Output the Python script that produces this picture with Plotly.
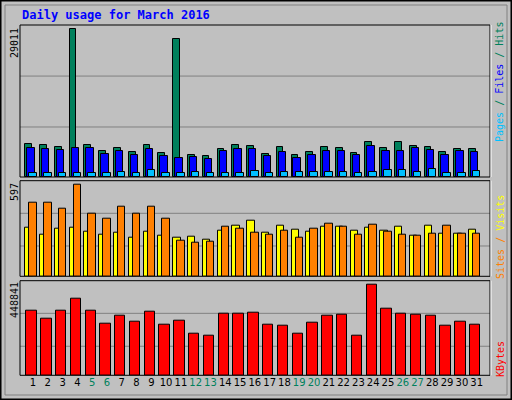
import plotly.graph_objects as go

days = list(range(1, 32))
hits = [6564,6366,5973,29011,6366,5185,5776,4988,6366,4791,27042,4398,4200,5579,6366,6170,4594,5973,4398,4988,5973,5776,4791,6957,5776,6957,6170,5973,4988,5579,5579]
files = [5776,5579,5382,5776,5776,4594,5185,4398,5579,4200,3807,4004,3610,5185,5579,5579,4200,4988,3807,4398,5185,5185,4398,6170,5185,5185,5776,5382,4398,5185,4988]
pages = [853,853,853,853,853,853,1050,853,1444,853,853,1050,853,853,853,1247,853,1050,1050,1050,1050,1050,853,1050,1444,1444,1050,1640,853,853,1247]
sites = [318,273,311,318,292,273,286,253,292,266,253,260,240,298,331,363,286,331,305,292,324,324,298,318,298,324,266,331,279,279,305]
visits = [480,480,441,597,409,376,454,409,454,376,234,221,227,324,311,286,273,298,253,311,344,324,273,337,292,273,266,279,331,279,279]
kbytes = [320600,281140,320600,379790,320600,256480,295940,266350,315670,251550,271280,207160,197290,305800,305800,310740,251550,246620,207160,261410,295940,300870,197290,448841,330470,305800,300870,295940,246620,266350,251550]
weekends = [5, 6, 12, 13, 19, 20, 26, 27]
title = "Daily usage for March 2016"

W, H = 512, 400
def py(p):
    return 1 - p / H
def px(p):
    return p / W

fig = go.Figure()
line = dict(color="black", width=1)
def bar(y, color, xa, ya, off, wd):
    fig.add_trace(go.Bar(x=days, y=y, marker=dict(color=color, line=line), offset=off, width=wd,
                         xaxis=xa, yaxis=ya, showlegend=False, hoverinfo="skip"))

bar(hits, "#00805C", "x", "y", -0.52, 0.45)
bar(files, "#0000FF", "x", "y", -0.39, 0.5)
bar(pages, "#00C0FF", "x", "y", -0.25, 0.5)
bar(sites, "#FFFF00", "x2", "y2", -0.52, 0.5)
bar(visits, "#FF8000", "x2", "y2", -0.25, 0.5)
bar(kbytes, "#FF0000", "x3", "y3", -0.45, 0.7)

xr = [0.12, 31.9]
xd = [px(20), px(490)]
ticktext = [f"<span style='color:#00805C'>{d}</span>" if d in weekends else str(d) for d in days]
common = dict(range=xr, domain=xd, showgrid=False, zeroline=False, fixedrange=True)
panels = [(177, 25, 29795), (276.3, 180.7, 620), (375.3, 280.7, 466600)]
layout = dict(
    width=W, height=H, margin=dict(l=0, r=0, t=0, b=0),
    paper_bgcolor="#C0C0C0", plot_bgcolor="#C0C0C0", barmode="overlay", bargap=0,
    font=dict(family="DejaVu Sans", size=10, color="black"),
    xaxis=dict(**common, anchor="y", showticklabels=False, ticks=""),
    xaxis2=dict(**common, anchor="y2", showticklabels=False, ticks=""),
    xaxis3=dict(**common, anchor="y3", tickvals=days, ticktext=ticktext, ticks="",
                tickfont=dict(family="DejaVu Sans", size=10)),
)
for i, (b, t, mx) in enumerate(panels):
    k = "yaxis" if i == 0 else f"yaxis{i+1}"
    layout[k] = dict(domain=[py(b), py(t)], range=[0, mx], showgrid=False, zeroline=False,
                     showticklabels=False, ticks="", anchor="x" if i == 0 else f"x{i+1}", fixedrange=True)
fig.update_layout(**layout)

shapes = []
grids = [(0.329, 0.664), (0.317, 0.659), (0.307, 0.655)]
for i, (b, t, mx) in enumerate(panels):
    ya = "y" if i == 0 else f"y{i+1}"
    for g in grids[i]:
        shapes.append(dict(type="line", xref="paper", yref=f"{ya} domain", x0=xd[0], x1=xd[1], y0=g, y1=g,
                           line=dict(color="#808080", width=1), layer="below"))
    shapes.append(dict(type="rect", xref="paper", yref="paper", x0=xd[0], x1=xd[1], y0=py(b), y1=py(t),
                       line=dict(color="black", width=1)))
    shapes.append(dict(type="line", xref="paper", yref="paper", x0=xd[1] + 0.002, x1=xd[1] + 0.002,
                       y0=py(b), y1=py(t), line=dict(color="white", width=1)))
shapes.append(dict(type="rect", xref="paper", yref="paper", x0=0.001, x1=0.999, y0=0.001, y1=0.999,
                   line=dict(color="black", width=2)))
shapes.append(dict(type="rect", xref="paper", yref="paper", x0=px(5), x1=px(507), y0=py(395), y1=py(5),
                   line=dict(color="#808080", width=1)))
fig.update_layout(shapes=shapes)

mono = "DejaVu Sans Mono"
ann = [
    dict(x=px(20), y=py(15), text=f"<b>{title}</b>", xanchor="left", yanchor="middle",
         font=dict(family=mono, size=12, color="#0000FF")),
    dict(x=px(14), y=py(43), text="29011", textangle=-90, font=dict(family=mono, size=10)),
    dict(x=px(14), y=py(192), text="597", textangle=-90, font=dict(family=mono, size=10)),
    dict(x=px(14), y=py(300), text="448841", textangle=-90, font=dict(family=mono, size=10)),
    dict(x=px(500), y=py(82), textangle=-90, font=dict(family=mono, size=10, color="#00805C"),
         text="<span style='color:#00C0FF'>Pages</span> / <span style='color:#0000FF'>Files</span> / <span style='color:#00805C'>Hits</span>"),
    dict(x=px(500), y=py(237), textangle=-90, font=dict(family=mono, size=10, color="#FF8000"),
         text="<span style='color:#FF8000'>Sites</span> / <span style='color:#FFFF00'>Visits</span>"),
    dict(x=px(500), y=py(359), textangle=-90, font=dict(family=mono, size=10, color="#FF0000"),
         text="KBytes"),
]
for a in ann:
    a.update(xref="paper", yref="paper", showarrow=False)
    a.setdefault("xanchor", "center"); a.setdefault("yanchor", "middle")
fig.update_layout(annotations=ann)

fig.write_html("out.html", config={"displayModeBar": False},
               post_script="document.body.style.margin='0';document.body.style.overflow='hidden';")
